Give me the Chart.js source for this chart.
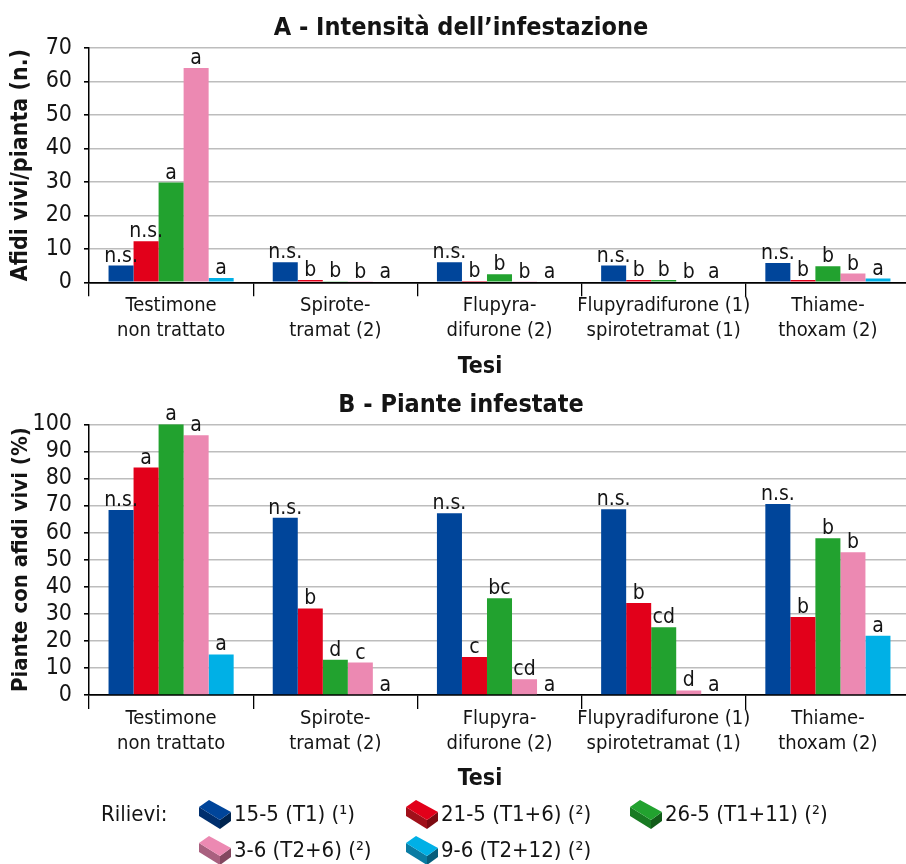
<!DOCTYPE html>
<html><head><meta charset="utf-8">
<script src="https://cdn.jsdelivr.net/npm/chart.js@4"></script>
<style>
html,body{margin:0;padding:0;overflow:hidden;background:#fff;width:906px;height:864px;position:relative}
canvas{position:absolute;left:0}
#cA{top:0}#cB{top:380px}
</style></head>
<body>
<canvas id="cA" width="910" height="380"></canvas>
<canvas id="cB" width="910" height="484"></canvas>
<script>
// ---- data ----
const categories = [
  ["Testimone","non trattato"],
  ["Spirote-","tramat (2)"],
  ["Flupyra-","difurone (2)"],
  ["Flupyradifurone (1)","spirotetramat (1)"],
  ["Thiame-","thoxam (2)"]
];
const seriesLabels = ["15-5 (T1) (¹)","21-5 (T1+6) (²)","26-5 (T1+11) (²)","3-6 (T2+6) (²)","9-6 (T2+12) (²)"];

// A - Afidi vivi/pianta (n.)
const aT1    = [5.0, 6.0, 6.0, 5.0, 5.8];
const aT1p6  = [12.3, 0.7, 0.4, 0.7, 0.7];
const aT1p11 = [29.8, 0.3, 2.4, 0.7, 4.8];
const aT2p6  = [64.0, 0.15, 0.2, 0, 2.6];
const aT2p12 = [1.3, 0, 0, 0, 1.1];

// B - Piante con afidi vivi (%)
const bT1    = [68.3, 65.5, 67.1, 68.6, 70.6];
const bT1p6  = [84, 32, 14, 34, 28.8];
const bT1p11 = [100, 13, 35.7, 25, 57.9];
const bT2p6  = [96, 12, 5.8, 1.7, 52.7];
const bT2p12 = [15, 0, 0, 0, 21.9];

// significance letters
const lettersA = [
  ["n.s.","n.s.","n.s.","n.s.","n.s."],
  ["n.s.","b","b","b","b"],
  ["a","b","b","b","b"],
  ["a","b","b","b","b"],
  ["a","a","a","a","a"]
];
const lettersB = [
  ["n.s.","n.s.","n.s.","n.s.","n.s."],
  ["a","b","c","b","b"],
  ["a","d","bc","cd","b"],
  ["a","c","cd","d","b"],
  ["a","a","a","a","a"]
];
const yTicksA = [0,10,20,30,40,50,60,70];
const yTicksB = [0,10,20,30,40,50,60,70,80,90,100];

// ---- styles ----
const colors = ["#00459a","#e2001a","#22a22f","#ec89b2","#00b0e6"];
const sideColors = ["#002f6e","#a0101a","#187a22","#a9607f","#0a7ca3"];
const darkColors = ["#00244f","#7c0a12","#125c19","#83475f","#075e7c"];
const FN = "'DejaVu Sans Condensed','Liberation Sans Narrow','Liberation Sans',sans-serif";
const TXT = "#141414";

const letterPlugin = {
  id:'letters',
  afterDatasetsDraw(chart){
    const ctx = chart.ctx;
    ctx.save();
    ctx.font = `21px ${FN}`;
    ctx.fillStyle = TXT;
    ctx.textAlign = 'center';
    ctx.textBaseline = 'alphabetic';
    chart.data.datasets.forEach((ds,i)=>{
      chart.getDatasetMeta(i).data.forEach((bar,j)=>{
        ctx.fillText(ds.letters[j], bar.x, bar.y - 4);
      });
    });
    ctx.restore();
  }
};

function drawBox(ctx, x, y, i){
  const d = 9;
  const L=[x,y+7], T=[x+10,y], R=[x+32,y+12], B=[x+21,y+20];
  ctx.fillStyle = sideColors[i];
  ctx.beginPath(); ctx.moveTo(L[0],L[1]); ctx.lineTo(B[0],B[1]); ctx.lineTo(B[0],B[1]+d); ctx.lineTo(L[0],L[1]+d); ctx.closePath(); ctx.fill();
  ctx.fillStyle = darkColors[i];
  ctx.beginPath(); ctx.moveTo(B[0],B[1]); ctx.lineTo(R[0],R[1]); ctx.lineTo(R[0],R[1]+d); ctx.lineTo(B[0],B[1]+d); ctx.closePath(); ctx.fill();
  ctx.fillStyle = colors[i];
  ctx.beginPath(); ctx.moveTo(L[0],L[1]); ctx.lineTo(T[0],T[1]); ctx.lineTo(R[0],R[1]); ctx.lineTo(B[0],B[1]); ctx.closePath(); ctx.fill();
}

const decoPlugin = {
  id:'deco',
  afterDraw(chart, args, opts){
    const ctx = chart.ctx;
    ctx.save();
    ctx.fillStyle = TXT;
    ctx.textAlign = 'center';
    ctx.textBaseline = 'alphabetic';
    ctx.font = `bold 25px ${FN}`;
    ctx.fillText(opts.title, 461, opts.titleY);
    ctx.font = `bold 23px ${FN}`;
    ctx.fillText("Tesi", 480, opts.tesiY);
    if (opts.legend){
      ctx.textAlign = 'left';
      ctx.font = `22px ${FN}`;
      ctx.fillText("Rilievi:", 101, 441);
      const pos = [[199,441],[406,441],[630,441],[199,477],[406,477]];
      seriesLabels.forEach((lab,i)=>{
        const [px,py] = pos[i];
        drawBox(ctx, px, py-21, i);
        ctx.fillStyle = TXT;
        ctx.fillText(lab, px+35, py);
      });
    }
    ctx.restore();
  }
};

function makeChart(id, cfg){
  return new Chart(document.getElementById(id), {
    type:'bar',
    data:{
      labels: categories,
      datasets: cfg.values.map((v,i)=>({
        label: seriesLabels[i], data: v, backgroundColor: colors[i],
        borderWidth: 0, categoryPercentage: 0.762, barPercentage: 1,
        letters: cfg.letters[i]
      }))
    },
    options:{
      responsive:false, animation:false, devicePixelRatio:1,
      layout:{padding:{left:10,right:0,top:cfg.padTop,bottom:cfg.padBottom}},
      plugins:{
        legend:{display:false}, tooltip:{enabled:false}, title:{display:false},
        deco: cfg.deco
      },
      scales:{
        x:{
          grid:{offset:true, drawOnChartArea:false, drawTicks:true, tickLength:14, color:'#000', lineWidth:1.3},
          border:{display:true, color:'#000', width:1.5},
          ticks:{font:{family:FN, size:20, lineHeight:1.25}, color:TXT, padding:-3, maxRotation:0, autoSkip:false},
          afterFit(s){ s.height = 97.7; }
        },
        y:{
          min:0, max:cfg.ticks[cfg.ticks.length-1],
          afterBuildTicks(s){ s.ticks = cfg.ticks.map(v=>({value:v})); },
          ticks:{font:{family:FN, size:23}, color:TXT, padding:12, autoSkip:false},
          grid:{color:(c)=> (c.tick && c.tick.value===0) ? '#000' : '#bdbdbd', lineWidth:1.6, tickLength:5, tickColor:'#000'},
          border:{color:'#000', width:1.5},
          title:{display:true, text:cfg.yTitle, font:{family:FN, size:cfg.yTitleSize, weight:'bold', lineHeight:1}, color:TXT, padding:0},
          afterFit(s){ s.width = 79; }
        }
      }
    },
    plugins:[letterPlugin, decoPlugin]
  });
}

makeChart('cA', {
  values:[aT1,aT1p6,aT1p11,aT2p6,aT2p12], letters:lettersA, ticks:yTicksA,
  yTitle:"Afidi vivi/pianta (n.)", yTitleSize:23, padTop:48, padBottom:0,
  deco:{title:"A - Intensità dell’infestazione", titleY:35, tesiY:373, legend:false}
});
makeChart('cB', {
  values:[bT1,bT1p6,bT1p11,bT2p6,bT2p12], letters:lettersB, ticks:yTicksB,
  yTitle:"Piante con afidi vivi (%)", yTitleSize:22, padTop:44.3, padBottom:71.3,
  deco:{title:"B - Piante infestate", titleY:32, tesiY:405, legend:true}
});
</script>
</body></html>
